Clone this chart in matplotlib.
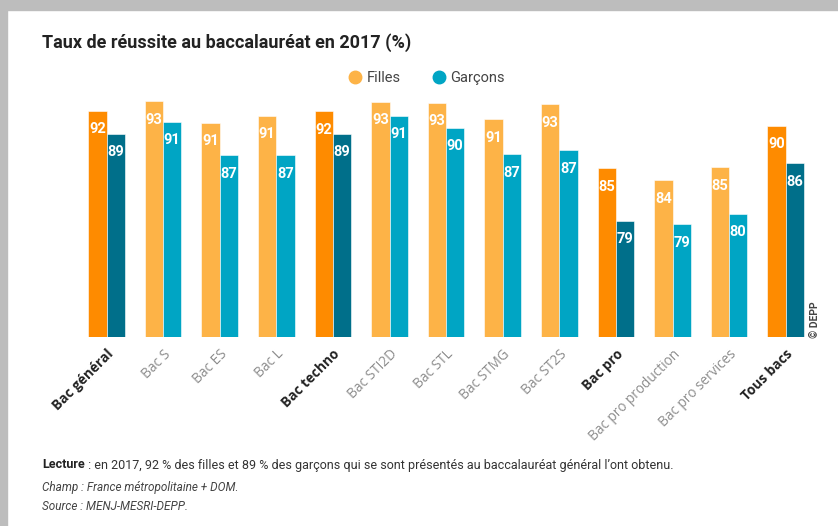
import matplotlib
matplotlib.use("Agg")

import matplotlib.pyplot as plt
import numpy as np
from matplotlib.lines import Line2D
from matplotlib.patches import Rectangle

# values (bar heights), labels are the rounded values
categories = ["Bac général", "Bac S", "Bac ES", "Bac L", "Bac techno",
              "Bac STI2D", "Bac STL", "Bac STMG", "Bac ST2S", "Bac pro",
              "Bac pro production", "Bac pro services", "Tous bacs"]
filles = [92.0, 93.1, 90.6, 91.4, 91.9, 93.0, 92.9, 91.0, 92.7, 85.3, 83.9, 85.4, 90.2]
garcons = [89.3, 90.7, 86.8, 86.8, 89.3, 91.4, 90.0, 86.9, 87.4, 79.2, 78.8, 80.0, 85.9]
is_total = [True, False, False, False, True, False, False, False, False,
            True, False, False, True]

F_DARK, F_LIGHT = "#fe8b00", "#fdb347"
G_DARK, G_LIGHT = "#006f8a", "#00a5c4"

plt.rcParams["font.family"] = ["Roboto", "DejaVu Sans"]

fig = plt.figure(figsize=(8.38, 5.26), dpi=100)
W, H = 838, 526

# grey frame of the screenshot
fig.patches.append(Rectangle((0, 1 - 10 / H), 1, 10 / H, transform=fig.transFigure,
                             color="#bdbdbd", zorder=0))
fig.patches.append(Rectangle((0, 0), 7 / W, 1, transform=fig.transFigure,
                             color="#bdbdbd", zorder=0))

ax = fig.add_axes([78.2 / W, (H - 337) / H, 735.8 / W, 242 / H])
x = np.arange(len(categories))
bw = 0.323
f_cols = [F_DARK if t else F_LIGHT for t in is_total]
g_cols = [G_DARK if t else G_LIGHT for t in is_total]
ymin = 65.7
bf = ax.bar(x - bw / 2, np.array(filles) - ymin, bw, bottom=ymin, color=f_cols,
            edgecolor="white", linewidth=0.4)
bg = ax.bar(x + bw / 2, np.array(garcons) - ymin, bw, bottom=ymin, color=g_cols,
            edgecolor="white", linewidth=0.4)

for bars, vals in ((bf, filles), (bg, garcons)):
    for b, v in zip(bars, vals):
        ax.annotate(f"{v:.0f}", (b.get_x() + b.get_width() / 2, v),
                    xytext=(0, -13.3), textcoords="offset points",
                    ha="center", va="center", color="white",
                    fontsize=10.5, fontweight="bold")

ax.set_xlim(-0.5, len(categories) - 0.5)
ax.set_ylim(ymin, 93.8)
ax.set_yticks([])
ax.set_xticks(x)
ax.set_xticklabels(categories, rotation=45, ha="right", rotation_mode="anchor",
                   fontsize=9.8, family=["Open Sans", "DejaVu Sans"])
for lab, t in zip(ax.get_xticklabels(), is_total):
    lab.set_color("#222222" if t else "#8c8c8c")
    lab.set_fontweight("bold" if t else "normal")
ax.tick_params(axis="x", length=0, pad=7)
for s in ax.spines.values():
    s.set_visible(False)

fig.text(42 / W, 1 - 43 / H, "Taux de réussite au baccalauréat en 2017 (%)",
         fontsize=13, fontweight="bold", color="#222222", va="center")

handles = [Line2D([], [], marker="o", ls="", color=F_LIGHT, markersize=9),
           Line2D([], [], marker="o", ls="", color=G_LIGHT, markersize=9)]
fig.legend(handles, ["Filles", "Garçons"], ncol=2, frameon=False,
           loc="center", bbox_to_anchor=(427 / W, 1 - 78 / H), fontsize=10.5,
           labelcolor="#444444", handlelength=0.8, handletextpad=0.4,
           columnspacing=2.2)

fig.text(815 / W, (H - 338) / H, "© DEPP", rotation=90, fontsize=7.5,
         fontweight="bold", color="#444444", ha="center", va="bottom")

lec = fig.text(42 / W, 1 - 465 / H, "Lecture", fontsize=9, fontweight="bold",
               color="#222222", va="center")
ax.annotate(" : en 2017, 92 % des filles et 89 % des garçons qui se sont présentés "
            "au baccalauréat général l’ont obtenu.",
            xy=(1, 0.5), xycoords=lec, va="center", fontsize=9, color="#333333",
            annotation_clip=False)
fig.text(42 / W, 1 - 488 / H, "Champ : France métropolitaine + DOM.",
         fontsize=8.5, style="italic", color="#444444", va="center")
fig.text(42 / W, 1 - 506 / H, "Source : MENJ-MESRI-DEPP.",
         fontsize=8.5, style="italic", color="#444444", va="center")

fig.savefig("out.png", dpi=100)
